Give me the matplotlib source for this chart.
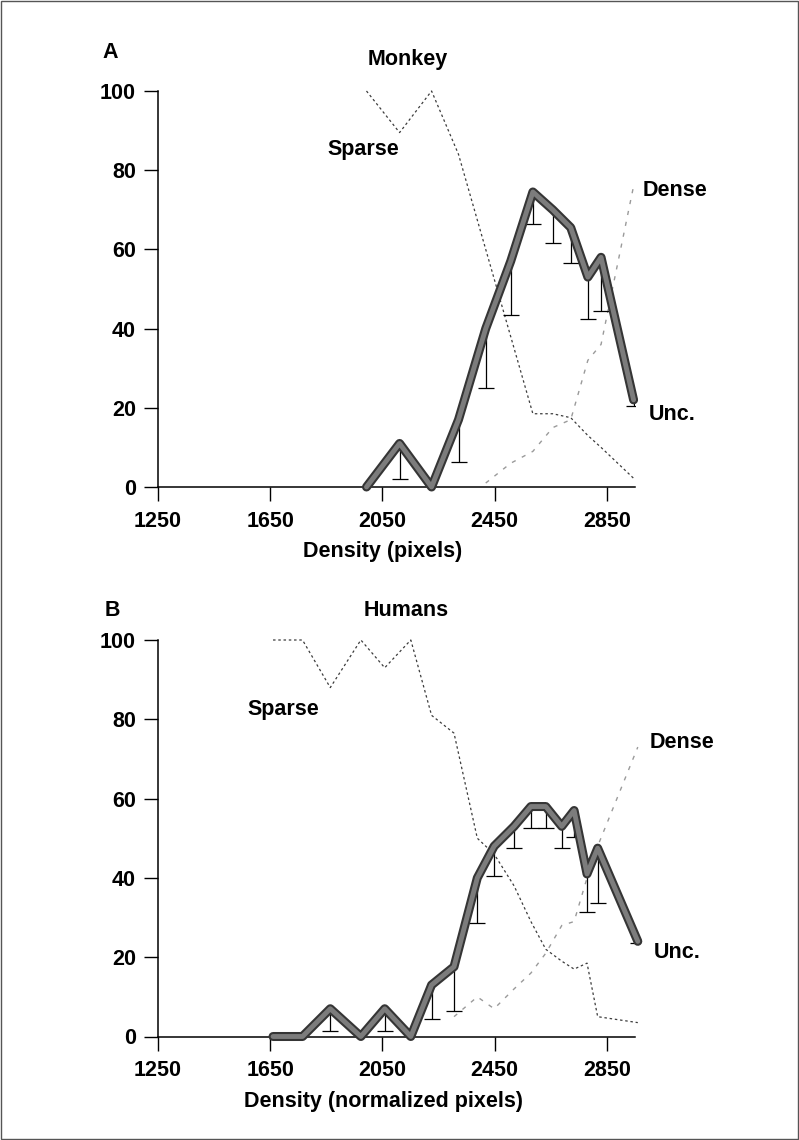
import matplotlib
matplotlib.use('Agg')
import matplotlib.pyplot as plt
import matplotlib.patheffects as pe
from matplotlib.patches import Rectangle
import numpy as np

plt.rcParams['font.family'] = ['Liberation Sans', 'DejaVu Sans']
plt.rcParams['font.weight'] = 'bold'
plt.rcParams['font.size'] = 15.5

# panel A - monkey
a_x = [1993, 2111, 2225, 2321, 2418, 2507, 2586, 2657, 2721, 2782, 2829, 2945]
a_unc = [0, 11, 0, 17, 40, 57, 74.5, 70, 65.5, 53, 58, 22]
a_unc_low = [np.nan, 2, np.nan, 6.4, 25, 43.4, 66.4, 61.5, 56.5, 42.3, 44.5, 20.4]
a_sparse = [100, 89.5, 100, 84, 60, 38, 18.5, 18.5, 17.5, 13, 10, 2.2]
a_dense_x = [2418, 2507, 2586, 2657, 2721, 2782, 2829, 2945]
a_dense = [1, 6, 9, 15, 17, 32, 36, 76]

# panel B - humans
b_x = [1660, 1765, 1864, 1973, 2058, 2151, 2225, 2305, 2388, 2448, 2519,
       2579, 2632, 2689, 2733, 2779, 2817, 2960]
b_unc = [0, 0, 7, 0, 7, 0, 13, 17.6, 40, 48, 53, 58, 58, 53, 57, 41, 47.5, 24]
b_unc_low = [np.nan, np.nan, 1.5, np.nan, 1.5, np.nan, 4.3, 6.4, 28.5, 40.5,
             47.6, 52.5, 52.5, 47.6, 50.4, 31.5, 33.6, 23.5]
b_sparse = [100, 100, 88, 100, 93, 100, 81, 76.5, 50, 46, 38, 29, 22, 19, 17,
            18.5, 5, 3.5]
b_dense_x = [2305, 2388, 2448, 2519, 2579, 2632, 2689, 2733, 2779, 2817, 2960]
b_dense = [5, 10, 7, 12, 16, 21, 28, 29, 40, 48, 73]

xticks = [1250, 1650, 2050, 2450, 2850]
yticks = [0, 20, 40, 60, 80, 100]

W, H = 799, 1140
fig = plt.figure(figsize=(W / 100, H / 100), dpi=100)


def px(x, y):
    return x / W, 1 - y / H


def panel(rect, x, unc, low, sparse, dx, dense):
    ax = fig.add_axes(rect)
    ax.plot(x, sparse, color='#3c3c3c', lw=0.9, ls=(0, (2, 2.2)), zorder=2, clip_on=False)
    ax.plot(dx, dense, color='#9a9a9a', lw=1, ls=(0, (3, 5)), zorder=2, clip_on=False)
    x = np.array(x, float)
    unc = np.array(unc, float)
    low = np.array(low, float)
    ok = ~np.isnan(low)
    ax.vlines(x[ok], low[ok], unc[ok], color='black', lw=0.9, zorder=3)
    ax.plot(x[ok], low[ok], ls='none', marker='_', ms=11, mew=0.9, color='black', zorder=3)
    ax.plot(x, unc, color='#7c7c7c', lw=3.5, zorder=4, solid_joinstyle='round',
            solid_capstyle='round', clip_on=False,
            path_effects=[pe.Stroke(linewidth=6.5, foreground='#353535'), pe.Normal()])
    ax.set_xlim(1250, 2950)
    ax.set_ylim(0, 100)
    ax.set_xticks(xticks)
    ax.set_yticks(yticks)
    for s in ['top', 'right']:
        ax.spines[s].set_visible(False)
    for s in ['left', 'bottom']:
        ax.spines[s].set_linewidth(1.1)
    ax.tick_params(axis='x', length=10, width=1, pad=7, labelsize=15.5)
    ax.tick_params(axis='y', length=10, width=1, pad=6, labelsize=15.5)
    return ax


panel([158 / W, 1 - 487 / H, 477 / W, 396 / H], a_x, a_unc, a_unc_low, a_sparse, a_dense_x, a_dense)
panel([158 / W, 1 - 1036.5 / H, 477 / W, 396.5 / H], b_x, b_unc, b_unc_low, b_sparse, b_dense_x, b_dense)

labels = [
    ('A', 110, 51), ('Monkey', 408, 57), ('Sparse', 363, 148), ('Dense', 675, 188),
    ('Unc.', 672, 413), ('Density (pixels)', 383, 550),
    ('B', 112, 608), ('Humans', 406, 608), ('Sparse', 283, 708), ('Dense', 682, 740),
    ('Unc.', 677, 950), ('Density (normalized pixels)', 383, 1100),
]
for t, x, y in labels:
    fig.text(*px(x, y + 7.5), t, ha='center', va='baseline', fontsize=15.5, fontweight='bold')

fig.add_artist(Rectangle((1 / W, 1 / H), 797 / W, 1138 / H, transform=fig.transFigure,
                         fill=False, edgecolor='#555555', lw=1))

fig.savefig('out.png', dpi=100)
